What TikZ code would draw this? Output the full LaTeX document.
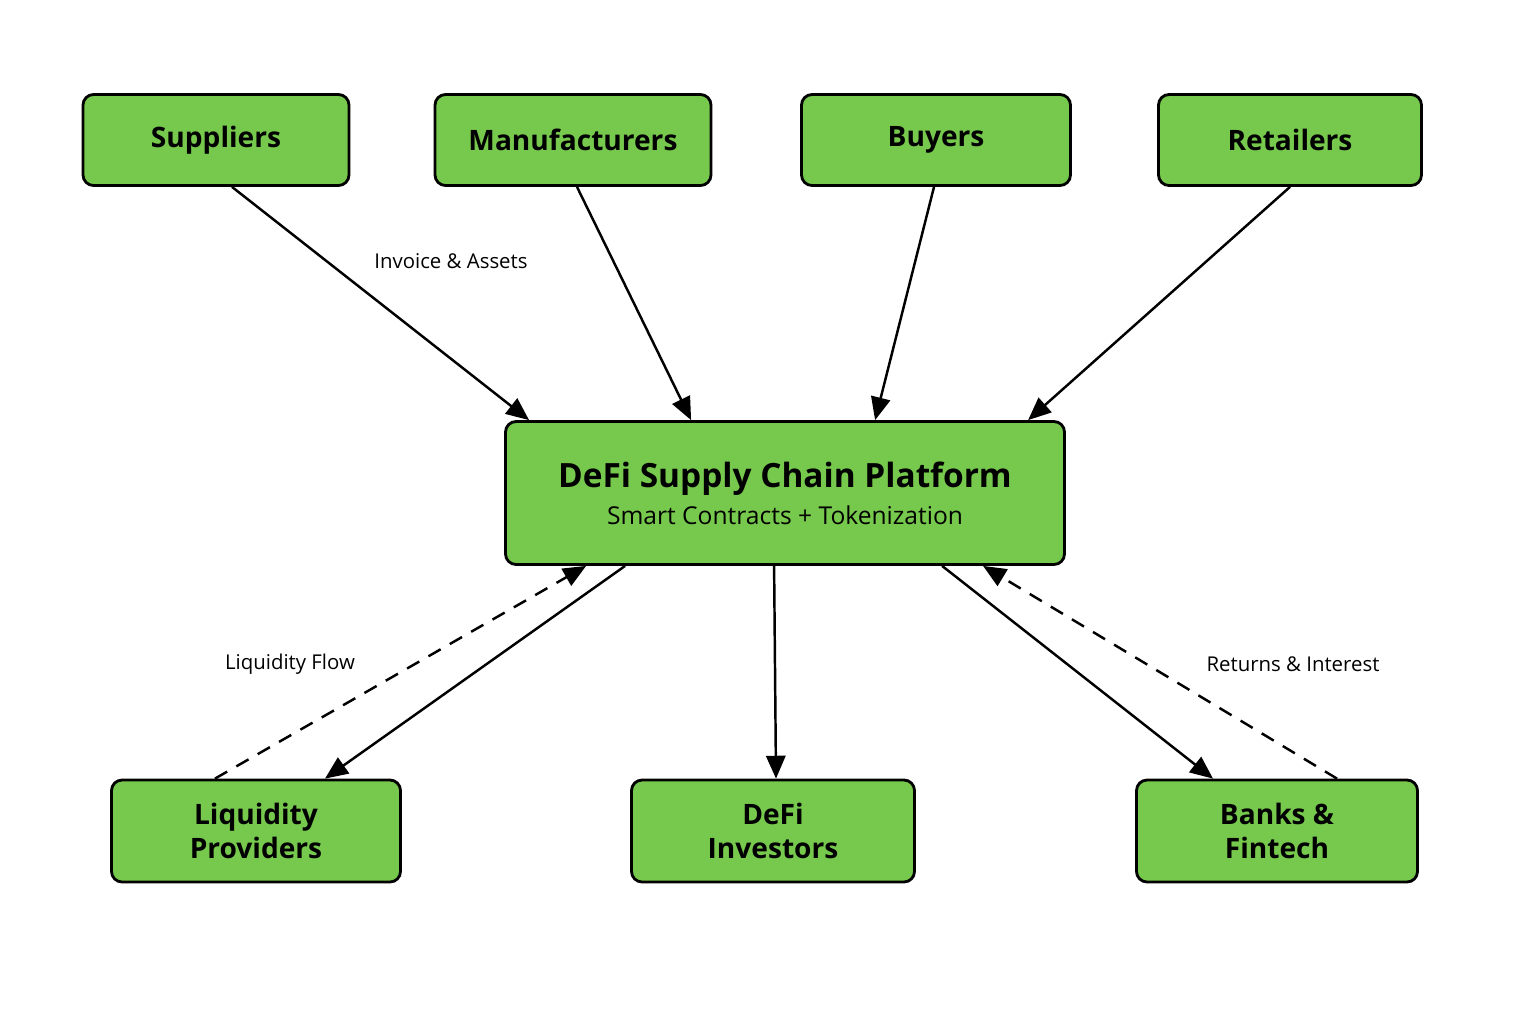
\documentclass[tikz,border=0pt]{standalone}
\usepackage{fontspec}
\setmainfont{Open Sans}
\usetikzlibrary{arrows.meta}
\definecolor{boxgreen}{RGB}{118,201,76}
\begin{document}
\begin{tikzpicture}[
        actor/.style={rectangle, rounded corners=3pt, draw=black, fill=boxgreen, line width=0.8pt, minimum height=0.91cm, align=center, font=\fontsize{8}{9.5}\selectfont\bfseries},
        sink/.style={actor, minimum height=1.02cm},
        platform/.style={actor, minimum width=5.59cm, minimum height=1.43cm},
        flow/.style={line width=0.7pt, -{Triangle[length=6.5pt,width=5.5pt]}},
        back/.style={flow, dashed, dash pattern=on 4pt off 3pt},
        tag/.style={font=\fontsize{5.8}{7}\selectfont},]

        \useasboundingbox (0,0) rectangle (15.36,-10.24);

        % Participants
        \node[actor, minimum width=2.66cm] (sup) at (2.16,-1.40) {Suppliers};
        \node[actor, minimum width=2.76cm] (man) at (5.73,-1.40) {Manufacturers};
        \node[actor, minimum width=2.69cm] (buy) at (9.36,-1.40) {Buyers};
        \node[actor, minimum width=2.63cm] (ret) at (12.90,-1.40) {Retailers};
        % Platform
        \node[platform] (plat) at (7.85,-4.93) {{\fontsize{9.5}{11}\selectfont DeFi Supply Chain Platform}\\[1pt]{\fontsize{7}{8}\selectfont\mdseries Smart Contracts + Tokenization}};
        % Capital side
        \node[sink, minimum width=2.89cm] (liq) at (2.56,-8.31) {Liquidity\\Providers};
        \node[sink, minimum width=2.83cm] (inv) at (7.73,-8.31) {DeFi\\Investors};
        \node[sink, minimum width=2.81cm] (bank) at (12.77,-8.31) {Banks \&\\Fintech};

        %Links
        \draw[flow] ([xshift=0.16cm]sup.south) -- ([xshift=0.25cm]plat.north west);
        \draw[flow] ([xshift=0.04cm]man.south) -- ([xshift=1.87cm]plat.north west);
        \draw[flow] ([xshift=-0.02cm]buy.south) -- ([xshift=3.71cm]plat.north west);
        \draw[flow] (ret.south) -- ([xshift=5.24cm]plat.north west);
        \draw[flow] ([xshift=1.21cm]plat.south west) -- ([xshift=0.69cm]liq.north);
        \draw[flow] ([xshift=2.70cm]plat.south west) -- ([xshift=0.03cm]inv.north);
        \draw[flow] ([xshift=4.38cm]plat.south west) -- ([xshift=-0.64cm]bank.north);
        \draw[back] ([xshift=-0.41cm]liq.north) -- ([xshift=0.82cm]plat.south west);
        \draw[back] ([xshift=0.60cm]bank.north) -- ([xshift=4.79cm]plat.south west);

        % Labels
        \node[tag] (l1) at (4.51,-2.61) {Invoice \& Assets};
        \node[tag] (l2) at (2.90,-6.64) {Liquidity Flow};
        \node[tag] (l3) at (12.93,-6.64) {Returns \& Interest};

    \end{tikzpicture}
\end{document}
